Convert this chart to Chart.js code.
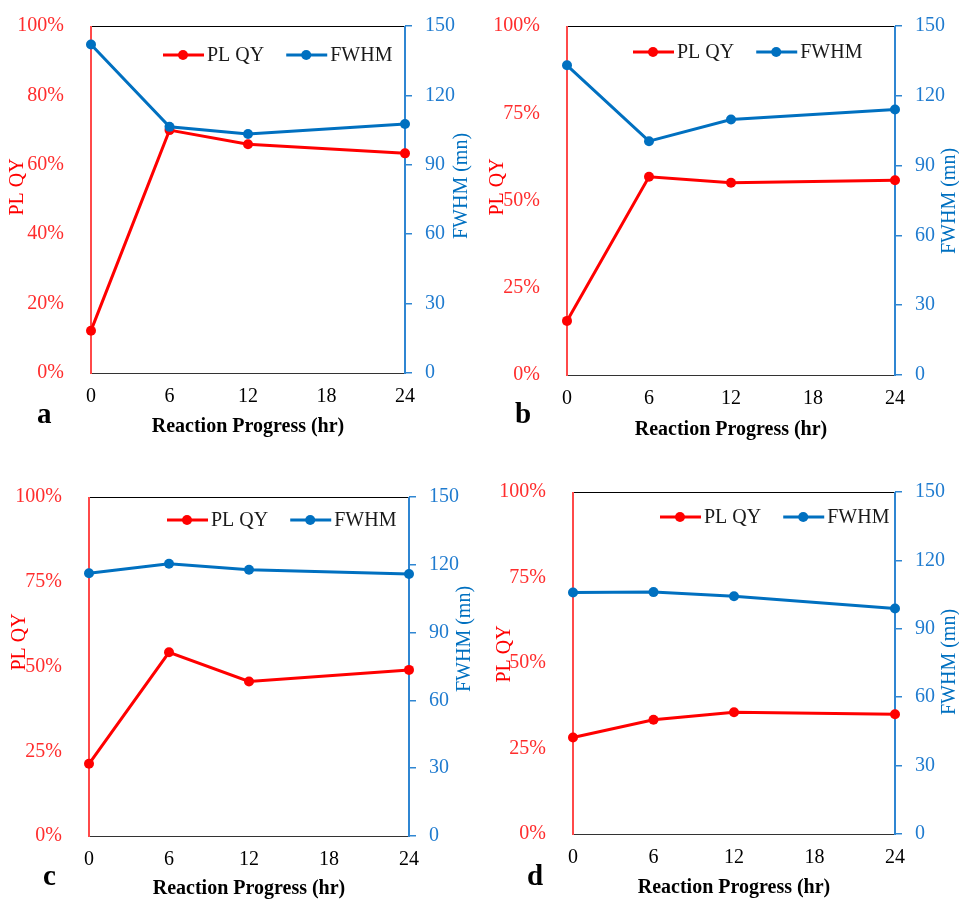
<!DOCTYPE html>
<html>
<head>
<meta charset="utf-8">
<script src="https://cdn.jsdelivr.net/npm/chart.js@4.4.0/dist/chart.umd.min.js"></script>
<style>
  html, body { margin: 0; padding: 0; background: #fff; }
  #lienzo { position: relative; width: 959px; height: 901px; overflow: hidden; }
  #lienzo canvas { position: absolute; }
</style>
</head>
<body>
<div id="lienzo">
  <canvas id="panel-a" width="480" height="450" style="left:0;top:0"></canvas>
  <canvas id="panel-b" width="479" height="450" style="left:480px;top:0"></canvas>
  <canvas id="panel-c" width="480" height="451" style="left:0;top:450px"></canvas>
  <canvas id="panel-d" width="479" height="451" style="left:480px;top:450px"></canvas>
</div>
<script>
// ===== Datos =====
const horas = [0, 6, 12, 24];
const ticksHoras = [0, 6, 12, 18, 24];
const ticksPlqyA = [0, 20, 40, 60, 80, 100];
const ticksPlqy = [0, 25, 50, 75, 100];
const ticksFwhm = [0, 30, 60, 90, 120, 150];

const plqyA = [12.2, 70.0, 65.9, 63.3];
const fwhmA = [142.0, 106.4, 103.3, 107.6];
const plqyB = [15.5, 56.8, 55.1, 55.8];
const fwhmB = [133.1, 100.5, 109.8, 114.1];
const plqyC = [21.3, 54.2, 45.6, 49.0];
const fwhmC = [116.3, 120.5, 117.8, 115.9];
const plqyD = [28.2, 33.4, 35.6, 35.0];
const fwhmD = [105.9, 106.1, 104.3, 98.9];

// ===== Estilo =====
const rojo = '#ff0000';
const rojoEje = '#ff4a4a';
const rojoTexto = '#ff2d2d';
const azul = '#0070c0';
const azulEje = '#2f86d2';
const azulTexto = '#1f7bcf';
const serif = "'Liberation Serif', 'Times New Roman', serif";

Chart.defaults.font.family = serif;
Chart.defaults.font.size = 20;

// posiciones de cada panel (coordenadas del canvas)
const paneles = [
  { id: 'panel-a', letra: 'a', plqy: plqyA, fwhm: fwhmA, ticksIzq: ticksPlqyA,
    area: { l: 91, r: 75, t: 26, b: 77 }, padTituloX: 11,
    leyenda: [163, 55], tituloIzq: [18, 187], tituloDer: [462, 186], posLetra: [37, 423] },
  { id: 'panel-b', letra: 'b', plqy: plqyB, fwhm: fwhmB, ticksIzq: ticksPlqy,
    area: { l: 87, r: 64, t: 26, b: 75 }, padTituloX: 8,
    leyenda: [153, 52], tituloIzq: [18, 187], tituloDer: [470, 201], posLetra: [35, 423] },
  { id: 'panel-c', letra: 'c', plqy: plqyC, fwhm: fwhmC, ticksIzq: ticksPlqy,
    area: { l: 89, r: 71, t: 47, b: 65 }, padTituloX: 0,
    leyenda: [167, 70], tituloIzq: [20, 192], tituloDer: [465, 189], posLetra: [43, 435] },
  { id: 'panel-d', letra: 'd', plqy: plqyD, fwhm: fwhmD, ticksIzq: ticksPlqy,
    area: { l: 93, r: 64, t: 42, b: 67 }, padTituloX: 1,
    leyenda: [180, 67], tituloIzq: [25, 204], tituloDer: [470, 212], posLetra: [47, 435] }
];

// ===== Utilidades =====
function puntos(valores) {
  return horas.map((h, i) => ({ x: h, y: valores[i] }));
}
function fijarTicks(lista) {
  return s => { s.ticks = lista.map(v => ({ value: v })); };
}
// tamaño fijo del eje sin márgenes extra
function fijarTam(prop, valor) {
  return s => {
    s[prop] = valor;
    s.paddingTop = 0; s.paddingBottom = 0; s.paddingLeft = 0; s.paddingRight = 0;
  };
}
function linea(ctx, x1, y1, x2, y2, color, ancho = 1) {
  ctx.strokeStyle = color;
  ctx.lineWidth = ancho;
  ctx.beginPath(); ctx.moveTo(x1, y1); ctx.lineTo(x2, y2); ctx.stroke();
}
function textoVertical(ctx, txt, x, y, color) {
  ctx.save();
  ctx.translate(x, y);
  ctx.rotate(-Math.PI / 2);
  ctx.fillStyle = color;
  ctx.font = `20px ${serif}`;
  ctx.textAlign = 'center';
  ctx.textBaseline = 'middle';
  ctx.fillText(txt, 0, 0);
  ctx.restore();
}
function dibujarLeyenda(ctx, x, y) {
  const entradas = [{ txt: 'PL QY', color: rojo }, { txt: 'FWHM', color: azul }];
  ctx.font = `20px ${serif}`;
  ctx.textBaseline = 'middle';
  ctx.textAlign = 'left';
  let cx = x;
  entradas.forEach(e => {
    ctx.strokeStyle = e.color;
    ctx.lineWidth = 3;
    ctx.beginPath(); ctx.moveTo(cx, y); ctx.lineTo(cx + 41, y); ctx.stroke();
    ctx.fillStyle = e.color;
    ctx.beginPath(); ctx.arc(cx + 20, y, 5, 0, 2 * Math.PI); ctx.fill();
    ctx.fillStyle = '#1a1a1a';
    ctx.fillText(e.txt, cx + 44, y + 1);
    cx += 44 + ctx.measureText(e.txt).width + 22;
  });
}

// marco del área, leyenda, títulos verticales y letra del panel
const extras = {
  id: 'extras',
  beforeDatasetsDraw(chart) {
    const { ctx, chartArea: a } = chart;
    const l = Math.round(a.left), r = Math.round(a.right);
    const t = Math.round(a.top) + 0.5, b = Math.round(a.bottom) + 0.5;
    ctx.save();
    linea(ctx, l, t, r, t, '#000');
    linea(ctx, l, b, r, b, '#333');
    linea(ctx, l, t - 0.5, l, b + 0.5, rojoEje, 2);
    linea(ctx, r, t - 0.5, r, b + 0.5, azulEje, 2);
    ctx.restore();
  },
  afterDraw(chart, args, o) {
    const { ctx } = chart;
    ctx.save();
    dibujarLeyenda(ctx, o.leyenda[0], o.leyenda[1]);
    textoVertical(ctx, 'PL QY', o.tituloIzq[0], o.tituloIzq[1], rojo);
    textoVertical(ctx, 'FWHM (mn)', o.tituloDer[0], o.tituloDer[1], azul);
    ctx.fillStyle = '#000';
    ctx.font = `bold 29px ${serif}`;
    ctx.textAlign = 'left';
    ctx.textBaseline = 'alphabetic';
    ctx.fillText(o.letra, o.posLetra[0], o.posLetra[1]);
    ctx.restore();
  }
};

// ===== Charts =====
paneles.forEach(p => {
  const ctx = document.getElementById(p.id).getContext('2d');
  new Chart(ctx, {
    type: 'line',
    data: {
      datasets: [
        { label: 'PL QY', data: puntos(p.plqy), yAxisID: 'yIzq', borderColor: rojo, backgroundColor: rojo,
          borderWidth: 3, pointRadius: 5, pointBorderWidth: 0, tension: 0, clip: false, order: 2 },
        { label: 'FWHM', data: puntos(p.fwhm), yAxisID: 'yDer', borderColor: azul, backgroundColor: azul,
          borderWidth: 3, pointRadius: 5, pointBorderWidth: 0, tension: 0, clip: false, order: 1 }
      ]
    },
    options: {
      responsive: false,
      animation: false,
      events: [],
      layout: { padding: { top: p.area.t, left: 0, right: 0, bottom: 0 } },
      plugins: {
        legend: { display: false },
        tooltip: { enabled: false },
        extras: { leyenda: p.leyenda, tituloIzq: p.tituloIzq, tituloDer: p.tituloDer, letra: p.letra, posLetra: p.posLetra }
      },
      scales: {
        x: {
          type: 'linear', min: 0, max: 24,
          afterBuildTicks: fijarTicks(ticksHoras),
          afterFit: fijarTam('height', p.area.b),
          grid: { display: false },
          border: { display: false },
          ticks: { color: '#000', padding: 4, font: { size: 20 } },
          title: { display: true, text: 'Reaction Progress (hr)', color: '#000',
                   font: { size: 20, weight: 'bold' }, padding: { top: 0, bottom: p.padTituloX } }
        },
        yIzq: {
          type: 'linear', position: 'left', min: 0, max: 100,
          afterBuildTicks: fijarTicks(p.ticksIzq),
          afterFit: fijarTam('width', p.area.l),
          grid: { display: false },
          border: { display: false },
          ticks: { color: rojoTexto, padding: 19, callback: v => v + '%' }
        },
        yDer: {
          type: 'linear', position: 'right', min: 0, max: 150,
          afterBuildTicks: fijarTicks(ticksFwhm),
          afterFit: fijarTam('width', p.area.r),
          grid: { display: true, drawOnChartArea: false, drawTicks: true, tickLength: 7, color: azulEje, lineWidth: 1.5 },
          border: { display: false },
          ticks: { color: azulTexto, padding: 13 }
        }
      }
    },
    plugins: [extras]
  });
});
</script>
</body>
</html>
